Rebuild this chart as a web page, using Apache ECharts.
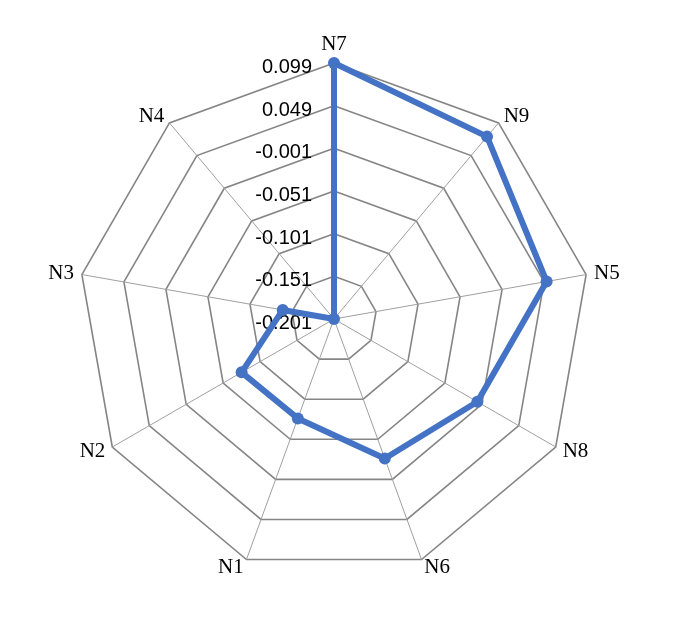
<!DOCTYPE html>
<html>
<head>
<meta charset="utf-8">
<script src="https://cdn.jsdelivr.net/npm/echarts@6/dist/echarts.min.js"></script>
<style>
html,body{margin:0;padding:0;background:#fff;}
#chart{width:675px;height:624px;}
</style>
</head>
<body>
<div id="chart"></div>
<script>
// Categories in clockwise order starting at top
const categories = ['N7', 'N9', 'N5', 'N8', 'N6', 'N1', 'N2', 'N3', 'N4'];
const values = [0.099, 0.078, 0.052, -0.007, -0.027, -0.077, -0.076, -0.140, -0.201];
const axisMin = -0.201;
const axisMax = 0.099;
const tickLabels = ['-0.201', '-0.151', '-0.101', '-0.051', '-0.001', '0.049', '0.099'];

// ECharts radar runs counter-clockwise: reorder (keep first, reverse rest)
const order = [0].concat(categories.slice(1).map((_, i) => categories.length - 1 - i));
const indicator = order.map((idx, k) => {
  const o = { name: categories[idx], min: axisMin, max: axisMax };
  if (k === 0) {
    o.axisLabel = {
      show: true,
      formatter: function (v) {
        const i = Math.round((v - axisMin) / 0.05);
        return tickLabels[i] !== undefined ? '{t|' + tickLabels[i] + '}' : '';
      },
      rich: {
        t: {
          color: '#000',
          fontFamily: 'Liberation Sans',
          fontSize: 20,
          padding: [9, 0, 0, 0]
        }
      }
    };
  }
  return o;
});
const seriesData = order.map(idx => values[idx]);

const chart = echarts.init(document.getElementById('chart'));
chart.setOption({
  animation: false,
  backgroundColor: '#ffffff',
  radar: {
    center: [334, 319],
    radius: 256,
    startAngle: 90,
    shape: 'polygon',
    splitNumber: 6,
    indicator: indicator,
    axisName: {
      color: '#000',
      fontFamily: 'Liberation Serif',
      fontSize: 21
    },
    nameGap: 8,
    axisLine: { lineStyle: { color: '#a0a0a0', width: 1 } },
    splitLine: { lineStyle: { color: '#858585', width: 1.6 } },
    splitArea: { show: false },
    axisTick: { show: false },
    axisLabel: {
      show: false,
      color: '#000',
      fontFamily: 'Liberation Sans',
      fontSize: 20,
      margin: 22
    }
  },
  series: [{
    type: 'radar',
    symbol: 'circle',
    symbolSize: 12,
    lineStyle: { color: '#4472C4', width: 6 },
    itemStyle: { color: '#4472C4' },
    data: [{ value: seriesData }]
  }]
});
</script>
</body>
</html>
